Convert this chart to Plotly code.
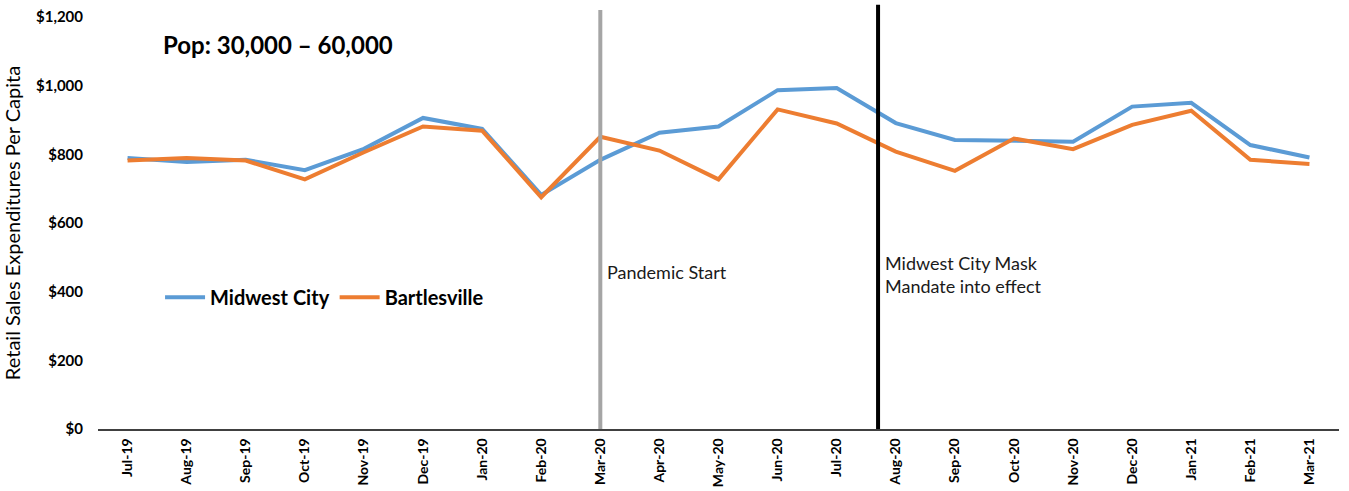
import plotly.graph_objects as go

months = ["Jul-19", "Aug-19", "Sep-19", "Oct-19", "Nov-19", "Dec-19", "Jan-20",
          "Feb-20", "Mar-20", "Apr-20", "May-20", "Jun-20", "Jul-20", "Aug-20",
          "Sep-20", "Oct-20", "Nov-20", "Dec-20", "Jan-21", "Feb-21", "Mar-21"]
midwest_city = [789, 778, 784, 754, 816, 906, 874, 682, 784, 863, 881, 987, 993,
                891, 842, 840, 837, 939, 950, 827, 791]
bartlesville = [782, 789, 782, 727, 806, 881, 869, 675, 851, 811, 727, 931, 890,
                808, 752, 846, 815, 886, 927, 784, 772]
y_ticks = [0, 200, 400, 600, 800, 1000, 1200]
y_tick_labels = ["$0", "$200", "$400", "$600", "$800", "$1,000", "$1,200"]

# event markers, in category-index units
pandemic_start = 8.0
mask_mandate = 12.7

font_family = "Lato, 'Open Sans', sans-serif"
idx = list(range(len(months)))

fig = go.Figure()
fig.add_trace(go.Scatter(x=idx, y=midwest_city, mode="lines", name="Midwest City",
                         line=dict(color="#5B9BD5", width=4)))
fig.add_trace(go.Scatter(x=idx, y=bartlesville, mode="lines", name="Bartlesville",
                         line=dict(color="#ED7D31", width=4)))

fig.add_shape(type="line", xref="x", yref="paper", x0=pandemic_start, x1=pandemic_start,
              y0=0, y1=1.017, line=dict(color="#A5A5A5", width=4))
fig.add_shape(type="line", xref="x", yref="paper", x0=mask_mandate, x1=mask_mandate,
              y0=0, y1=1.03, line=dict(color="#000000", width=4))

fig.add_annotation(x=pandemic_start, xref="x", xshift=5, xanchor="left", y=457, yref="y",
                   text="Pandemic Start", showarrow=False, align="left",
                   font=dict(family=font_family, size=18, color="#1a1a1a"))
fig.add_annotation(x=mask_mandate, xref="x", xshift=5, xanchor="left", y=449, yref="y",
                   text="Midwest City Mask<br>Mandate into effect", showarrow=False,
                   align="left", font=dict(family=font_family, size=18, color="#1a1a1a"))
fig.add_annotation(x=0.051, xref="paper", xanchor="left", y=1120, yref="y",
                   text="<b>Pop: 30,000 \u2013 60,000</b>", showarrow=False,
                   font=dict(family=font_family, size=24, color="#000000"))

fig.update_layout(
    width=1349, height=491,
    margin=dict(l=98, r=10, t=17, b=62),
    paper_bgcolor="white", plot_bgcolor="white",
    font=dict(family=font_family, color="#000000"),
    showlegend=True,
    legend=dict(orientation="h", x=0.05, xanchor="left", y=0.32, yanchor="middle",
                font=dict(family=font_family, size=20, weight="bold"),
                bgcolor="rgba(0,0,0,0)", itemwidth=40),
    xaxis=dict(range=[-0.5, len(months) - 0.5], tickmode="array", tickvals=idx,
               ticktext=months, tickangle=-90, showgrid=False, zeroline=False,
               showline=True, linecolor="#404040", linewidth=1.5, ticks="",
               ticklabelstandoff=2, automargin=False,
               tickfont=dict(family=font_family, size=14, weight="bold")),
    yaxis=dict(range=[0, 1200], tickmode="array", tickvals=y_ticks,
               ticktext=y_tick_labels, showgrid=False, zeroline=False,
               showline=False, ticks="", ticklabelstandoff=14, automargin=False,
               tickfont=dict(family=font_family, size=15, weight="bold"),
               title=dict(text="Retail Sales Expenditures Per Capita", standoff=12,
                          font=dict(family=font_family, size=20))),
)

fig.write_html("out.html")
